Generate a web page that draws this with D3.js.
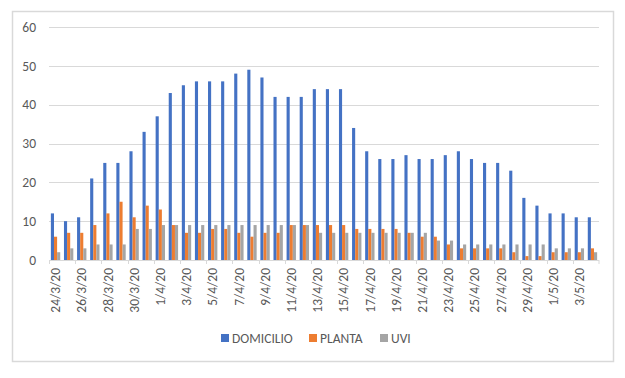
<!DOCTYPE html>
<html>
<head>
<meta charset="utf-8">
<script src="https://cdn.jsdelivr.net/npm/d3@7"></script>
<style>
  body { margin: 0; background: #fff; }
  text { font-family: Carlito, Calibri, Lato, sans-serif; fill: #595959; }
</style>
</head>
<body>
<div id="chart"></div>
<script>
// data
var dates = ["24/3/20","25/3/20","26/3/20","27/3/20","28/3/20","29/3/20","30/3/20","31/3/20",
  "1/4/20","2/4/20","3/4/20","4/4/20","5/4/20","6/4/20","7/4/20","8/4/20","9/4/20","10/4/20",
  "11/4/20","12/4/20","13/4/20","14/4/20","15/4/20","16/4/20","17/4/20","18/4/20","19/4/20","20/4/20",
  "21/4/20","22/4/20","23/4/20","24/4/20","25/4/20","26/4/20","27/4/20","28/4/20","29/4/20","30/4/20",
  "1/5/20","2/5/20","3/5/20","4/5/20"];
var domicilio = [12,10,11,21,25,25,28,33,37,43,45,46,46,46,48,49,47,42,42,42,44,44,44,34,28,26,26,27,26,26,27,28,26,25,25,23,16,14,12,12,11,11];
var planta = [6,7,7,9,12,15,11,14,13,9,7,7,8,8,7,6,7,7,9,9,9,9,9,8,8,8,8,7,6,6,4,3,3,3,3,2,1,1,2,2,2,3];
var uvi = [2,3,3,4,4,4,8,8,9,9,9,9,9,9,9,9,9,9,9,9,7,7,7,7,7,7,7,7,7,5,5,4,4,4,4,4,4,4,3,3,3,2];
var seriesNames = ["DOMICILIO","PLANTA","UVI"];
var colors = ["#4472C4","#ED7D31","#A5A5A5"];
var yTicks = [0,10,20,30,40,50,60];

var width = 625, height = 378;
var plot = { left: 49, right: 599, top: 27, bottom: 260 };
var fontSize = "13.5px";

var svg = d3.select("#chart").append("svg")
  .attr("width", width)
  .attr("height", height);

// outer frame
svg.append("rect")
  .attr("x", 12.5).attr("y", 11.5)
  .attr("width", 601).attr("height", 350)
  .attr("fill", "#fff")
  .attr("stroke", "#d9d9d9")
  .attr("stroke-width", 1.5);

var x0 = d3.scaleBand().domain(dates).range([plot.left, plot.right]);
var x1 = d3.scaleBand().domain(seriesNames).range([0, x0.bandwidth()]).paddingOuter(0.6);
var y = d3.scaleLinear().domain([0, 60]).range([plot.bottom, plot.top]);

// gridlines
svg.append("g")
  .selectAll("line")
  .data(yTicks)
  .enter()
  .append("line")
  .attr("x1", plot.left).attr("x2", plot.right)
  .attr("y1", d => Math.round(y(d)) + 0.5)
  .attr("y2", d => Math.round(y(d)) + 0.5)
  .attr("stroke", "#d9d9d9");

// y axis labels
var yAxis = d3.axisLeft(y).tickValues(yTicks).tickSize(0).tickPadding(13);
svg.append("g")
  .attr("transform", `translate(${plot.left}, 0)`)
  .call(yAxis)
  .call(g => g.select(".domain").remove())
  .selectAll("text")
  .style("font-size", fontSize)
  .attr("fill", "#595959");

// bars
var rows = dates.map((d, i) => ({ date: d, values: [domicilio[i], planta[i], uvi[i]] }));
var groups = svg.append("g")
  .selectAll("g")
  .data(rows)
  .enter()
  .append("g")
  .attr("transform", d => `translate(${x0(d.date)}, 0)`);

groups.selectAll("rect")
  .data(d => d.values.map((v, k) => ({ name: seriesNames[k], value: v, color: colors[k] })))
  .enter()
  .append("rect")
  .attr("x", d => x1(d.name))
  .attr("y", d => y(d.value))
  .attr("width", x1.bandwidth())
  .attr("height", d => y(0) - y(d.value))
  .attr("fill", d => d.color);

// x axis
var xAxis = d3.axisBottom(x0)
  .tickValues(dates.filter((d, i) => i % 2 === 0))
  .tickSize(0);
var xg = svg.append("g")
  .attr("transform", `translate(0, ${plot.bottom})`)
  .call(xAxis);
xg.select(".domain")
  .attr("stroke", "#d9d9d9")
  .attr("d", `M${plot.left},0.5H${plot.right}`);
xg.selectAll(".tick text")
  .attr("transform", "rotate(-90)")
  .attr("text-anchor", "end")
  .attr("x", -8)
  .attr("y", 0)
  .attr("dy", "0.35em")
  .style("font-size", fontSize)
  .attr("fill", "#595959");

// little tick marks between every second category
svg.append("g")
  .selectAll("line")
  .data(dates.filter((d, i) => i % 2 === 0).concat(["end"]))
  .enter()
  .append("line")
  .attr("x1", d => d === "end" ? plot.right : Math.round(x0(d)) + 0.5)
  .attr("x2", d => d === "end" ? plot.right : Math.round(x0(d)) + 0.5)
  .attr("y1", plot.bottom)
  .attr("y2", plot.bottom + 4)
  .attr("stroke", "#d9d9d9");

// legend
var legendX = [221, 309, 380];
var legend = svg.append("g")
  .selectAll("g")
  .data(seriesNames)
  .enter()
  .append("g")
  .attr("transform", (d, i) => `translate(${legendX[i]}, 338)`);
legend.append("rect")
  .attr("x", 0).attr("y", -4)
  .attr("width", 8).attr("height", 8)
  .attr("fill", (d, i) => colors[i]);
legend.append("text")
  .attr("x", 11)
  .attr("dy", "0.35em")
  .style("font-size", fontSize)
  .text(d => d);
</script>
</body>
</html>
